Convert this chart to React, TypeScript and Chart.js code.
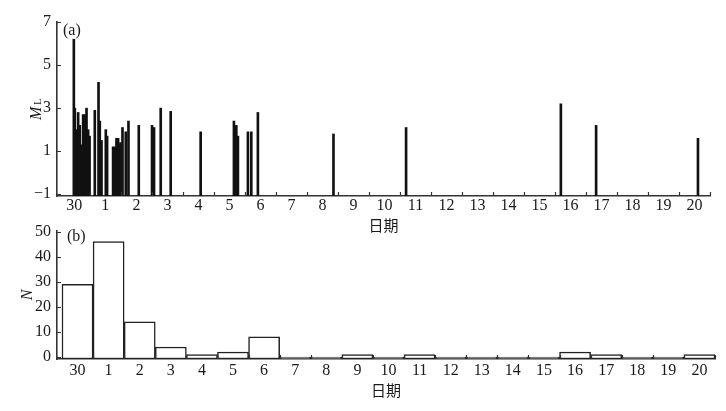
import React, { useEffect, useRef } from 'react';
import { Chart, registerables } from 'chart.js';

Chart.register(...registerables);

// ---- data ----
const dayLabels = ['30', '1', '2', '3', '4', '5', '6', '7', '8', '9', '10', '11', '12', '13', '14', '15', '16', '17', '18', '19', '20'];

// event times in days counted from the start of the 30th, and their magnitudes M_L
const eventDays = [
  0.483, 0.515, 0.57, 0.622, 0.676, 0.731, 0.783, 0.837, 0.892, 0.944, 0.99,
  1.159, 1.279, 1.32, 1.375, 1.514, 1.556, 1.749, 1.804, 1.858, 1.91, 1.942, 1.987,
  2.052, 2.158, 2.245, 2.577, 3.005, 3.069, 3.285, 3.607, 4.573,
  5.646, 5.723, 5.775, 6.097, 6.206, 6.419, 8.857, 11.198, 16.19, 17.327, 20.612,
];
const eventMags = [
  6.2, 3.0, 2.0, 2.8, 2.2, 1.3, 2.7, 2.7, 3.0, 2.0, 1.7,
  2.9, 4.2, 2.4, 1.5, 2.0, 1.7, 1.2, 1.2, 1.6, 1.6, 1.3, 1.4,
  2.1, 1.9, 2.4, 2.2, 2.2, 2.1, 3.0, 2.85, 1.9,
  2.4, 2.2, 1.7, 1.9, 1.9, 2.8, 1.8, 2.1, 3.2, 2.2, 1.6,
];

// number of events per day
const dailyCounts = [29, 46, 14, 4, 1, 2, 8, 0, 0, 1, 0, 1, 0, 0, 0, 0, 2, 1, 0, 0, 1];

const mlTicks = [-1, 1, 3, 5, 7];
const nTicks = [0, 10, 20, 30, 40, 50];

const ML_MIN = -1.08;
const ML_MAX = 7;
const N_MIN = -0.8;
const N_MAX = 50.4;

const FONT_FAMILY = '"Liberation Serif", "Times New Roman", "Noto Sans CJK SC", serif';
const TEXT = '#1a1a1a';
const AXIS = '#333333';

const innerTicks = {
  id: 'innerTicks',
  afterDraw(chart: any, _args: any, opts: any) {
    const { ctx, chartArea, scales } = chart;
    ctx.save();
    ctx.strokeStyle = AXIS;
    ctx.lineWidth = 1.2;
    ctx.beginPath();
    for (const v of opts.xValues || []) {
      const px = Math.round(scales.x.getPixelForValue(v)) + 0.5;
      ctx.moveTo(px, chartArea.bottom);
      ctx.lineTo(px, chartArea.bottom - 4);
    }
    for (const v of opts.yValues || []) {
      const py = Math.round(scales.y.getPixelForValue(v)) + 0.5;
      ctx.moveTo(chartArea.left, py);
      ctx.lineTo(chartArea.left + 4, py);
    }
    ctx.stroke();
    ctx.restore();
  },
};

const annotations = {
  id: 'annotations',
  afterDraw(chart: any, _args: any, opts: any) {
    const { ctx } = chart;
    ctx.save();
    ctx.fillStyle = TEXT;
    ctx.textAlign = 'left';
    ctx.textBaseline = 'middle';
    ctx.font = `16px ${FONT_FAMILY}`;
    ctx.fillText(opts.panel, opts.panelX, opts.panelY);
    if (opts.ml) {
      ctx.translate(40.5, 120);
      ctx.rotate(-Math.PI / 2);
      ctx.textBaseline = 'alphabetic';
      ctx.font = `italic 16px ${FONT_FAMILY}`;
      ctx.fillText('M', 0, 0);
      const w = ctx.measureText('M').width;
      ctx.font = `10px ${FONT_FAMILY}`;
      ctx.fillText('L', w + 2, 0.5);
    }
    ctx.restore();
  },
};

const tickFont = { family: FONT_FAMILY, size: 16 };
const boundaries = Array.from({ length: dayLabels.length }, (_, i) => i + 1);
const centerTicks = (s: any) => {
  s.ticks = dayLabels.map((_, i) => ({ value: i + 0.5 }));
};
const minus = (v: any) => String(v).replace('-', '\u2212');

export default function App() {
  const refA = useRef<HTMLCanvasElement>(null);
  const refB = useRef<HTMLCanvasElement>(null);

  useEffect(() => {
    const chartA = new Chart(refA.current as HTMLCanvasElement, {
      type: 'bar',
      data: {
        datasets: [
          {
            data: eventDays.map((d, i) => ({ x: d, y: [ML_MIN, eventMags[i]] })) as any,
            backgroundColor: '#111111',
            borderWidth: 0,
            barThickness: 2,
            grouped: false,
          } as any,
        ],
      },
      options: {
        responsive: false,
        animation: false,
        events: [],
        layout: { padding: { left: 0, right: 16, top: 22, bottom: 0 } },
        plugins: {
          legend: { display: false },
          tooltip: { enabled: false },
          innerTicks: { xValues: boundaries, yValues: mlTicks },
          annotations: { panel: '(a)', panelX: 63, panelY: 31, ml: true },
        } as any,
        scales: {
          x: {
            type: 'linear',
            offset: false,
            min: -0.06,
            max: dayLabels.length,
            afterBuildTicks: centerTicks,
            afterFit: (s: any) => { s.height = 44; },
            ticks: {
              autoSkip: false,
              maxRotation: 0,
              padding: 0,
              font: tickFont,
              color: TEXT,
              callback: (_v: any, i: number) => dayLabels[i],
            },
            grid: { display: false, drawTicks: false, offset: false },
            border: { display: true, color: AXIS, width: 1.6 },
            title: { display: true, text: '日期', font: { family: FONT_FAMILY, size: 15 }, color: TEXT, padding: { top: 0, bottom: 4 } },
          },
          y: {
            type: 'linear',
            min: ML_MIN,
            max: ML_MAX,
            afterBuildTicks: (s: any) => { s.ticks = mlTicks.map((v) => ({ value: v })); },
            afterFit: (s: any) => { s.width = 57; },
            ticks: { padding: 6, font: tickFont, color: TEXT, callback: minus },
            grid: { display: false, drawTicks: false },
            border: { display: true, color: AXIS, width: 1.6 },
          },
        },
      } as any,
      plugins: [innerTicks, annotations],
    });

    const chartB = new Chart(refB.current as HTMLCanvasElement, {
      type: 'bar',
      data: {
        datasets: [
          {
            data: dailyCounts.map((c, i) => ({ x: i + 0.5, y: [N_MIN, c] })) as any,
            backgroundColor: '#ffffff',
            borderColor: '#222222',
            borderWidth: 1.5,
            borderSkipped: false,
            barPercentage: 1,
            categoryPercentage: 1,
            grouped: false,
          } as any,
        ],
      },
      options: {
        responsive: false,
        animation: false,
        events: [],
        layout: { padding: { left: 0, right: 11, top: 14, bottom: 0 } },
        plugins: {
          legend: { display: false },
          tooltip: { enabled: false },
          innerTicks: { xValues: boundaries, yValues: nTicks },
          annotations: { panel: '(b)', panelX: 67, panelY: 22, ml: false },
        } as any,
        scales: {
          x: {
            type: 'linear',
            offset: false,
            min: -0.16,
            max: dayLabels.length,
            afterBuildTicks: centerTicks,
            afterFit: (s: any) => { s.height = 52; },
            ticks: {
              autoSkip: false,
              maxRotation: 0,
              padding: 2,
              font: tickFont,
              color: TEXT,
              callback: (_v: any, i: number) => dayLabels[i],
            },
            grid: { display: false, drawTicks: false, offset: false },
            border: { display: true, color: AXIS, width: 1.6 },
            title: { display: true, text: '日期', font: { family: FONT_FAMILY, size: 15 }, color: TEXT, padding: { top: 0, bottom: 10 } },
          },
          y: {
            type: 'linear',
            min: N_MIN,
            max: N_MAX,
            afterBuildTicks: (s: any) => { s.ticks = nTicks.map((v) => ({ value: v })); },
            afterFit: (s: any) => { s.width = 57; },
            ticks: { padding: 6, font: tickFont, color: TEXT, callback: minus },
            grid: { display: false, drawTicks: false },
            border: { display: true, color: AXIS, width: 1.6 },
            title: { display: true, text: 'N', font: { family: FONT_FAMILY, size: 16, style: 'italic' }, color: TEXT, padding: { top: 18, bottom: 0 } },
          },
        },
      } as any,
      plugins: [innerTicks, annotations],
    });

    return () => {
      chartA.destroy();
      chartB.destroy();
    };
  }, []);

  return (
    <div style={{ position: 'absolute', left: 0, top: 0, width: 726, height: 411, background: '#ffffff', overflow: 'hidden' }}>
      <canvas ref={refA} width={726} height={240} style={{ position: 'absolute', left: 0, top: 0, display: 'block' }} />
      <canvas ref={refB} width={726} height={196} style={{ position: 'absolute', left: 0, top: 215, display: 'block' }} />
    </div>
  );
}
